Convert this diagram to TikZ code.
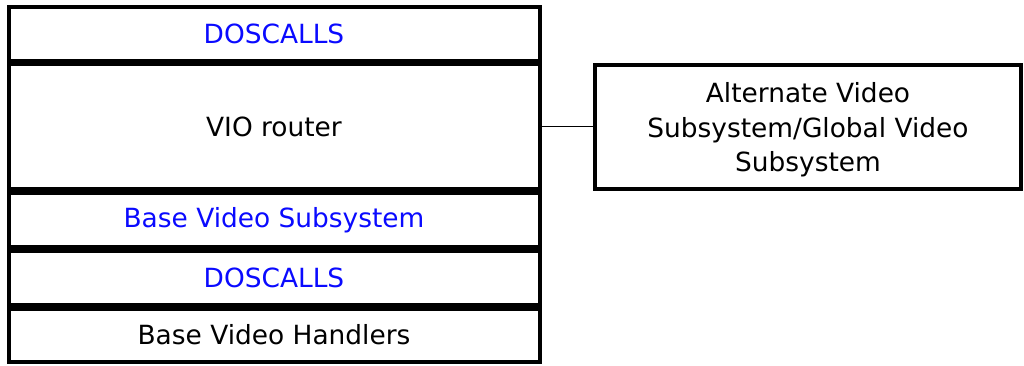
\documentclass[tikz,border=0pt]{standalone}
\usepackage{fontspec}
\setmainfont{DejaVu Sans}
\definecolor{lblue}{RGB}{10,10,255}
\begin{document}
\begin{tikzpicture}[x=0.75pt,y=-0.75pt,
  layer/.style={draw=black,line width=3pt,rectangle,minimum width=398.25pt,inner sep=0pt,
    font=\fontsize{19.8}{26}\selectfont},
  callbox/.style={layer,text=lblue},
  sidebox/.style={draw=black,line width=3pt,rectangle,inner sep=0pt,align=center,
    minimum width=319.95pt,minimum height=93pt}]
\useasboundingbox (0,0) rectangle (1024,365);
\node[callbox,minimum height=40.5pt] (b1) at (274,34) {DOSCALLS};
\node[layer,minimum height=93.4pt] (b2) at (274,126.75) {VIO router};
\node[callbox,minimum height=40.5pt] (b3) at (274,220) {Base Video Subsystem};
\node[callbox,minimum height=40.5pt] (b4) at (274,278) {DOSCALLS};
\node[layer,minimum height=39.75pt] (b5) at (274,335) {Base Video Handlers};
\node[sidebox] (r) at (808,126.75) {};
\node[align=center,inner sep=0pt,font=\fontsize{19.8}{26}\selectfont] (rt) at (808,130)
  {Alternate Video\\Subsystem/Global Video\\Subsystem};
\draw[line width=1pt] (b2.east) -- (r.west);
\end{tikzpicture}
\end{document}
